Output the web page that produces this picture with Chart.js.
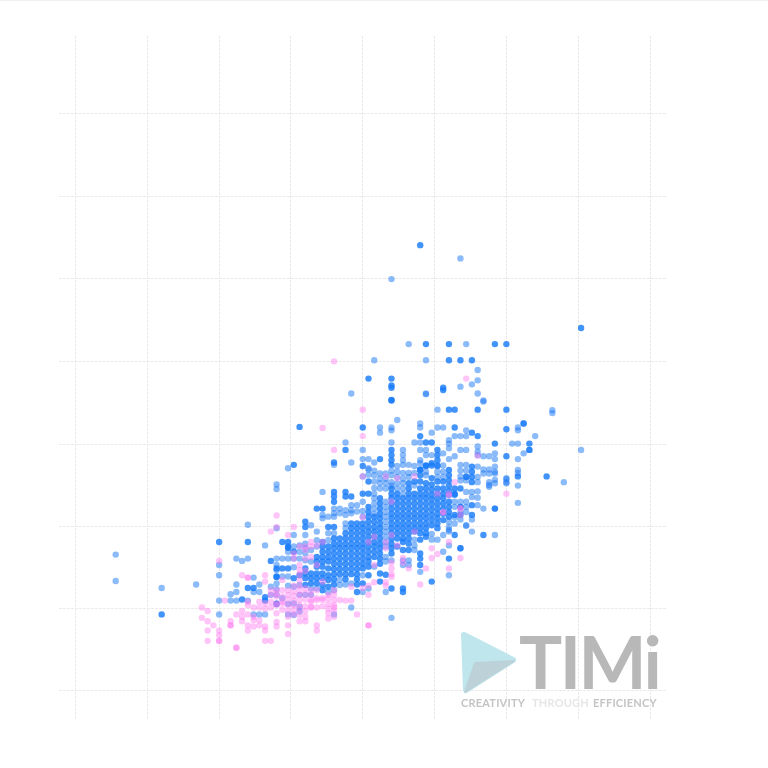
<!DOCTYPE html>
<html>
<head>
<meta charset="utf-8">
<style>html,body{margin:0;padding:0;background:#fff}canvas{display:block}</style>
<script src="https://cdn.jsdelivr.net/npm/chart.js@4"></script>
</head>
<body>
<canvas id="c" width="768" height="768"></canvas>
<script>
const xTicks = [-25,-12.5,0,12.5,25,37.5,50,62.5,75];
const yTicks = [-13.15,1.09,15.36,29.6,44.0,58.4,72.6,87.1];

const pinkColumns = [
[-3,[1.2,-.6]],[-2,[.6,-1.2,-2.8,-4.6]],[-1,[-1.9]],[0,[9.3,-2.8,-3.6,-4.6,-4.6]],[1,[2.4]],[2,[-1.2,-1.9,-1.9]],[3,[0,-5.8,-5.8]],
[4,[6.8,.6,-.4,-1.2]],[5,[6.4,6.4,2.2,1.6,0,-1.9,-2.8]],[6,[1.2,-.4,-1,-2.1]],[7,[2.2,1.2,-1,-1.9]],[8,[6.8,5.7,1.9,1,-2.1,-2.8,-4.6]],
[9,[14.4,4.2,3.4,2.2,1.2,-4.6]],[10,[17.2,15.2,4.2,3.6,3.1,1.9,1.6,.2,-1.3,-2.1]],[11,[6,2.2,4.2,3.1,1.9,.8]],
[12,[13.8,4.2,3.4,2.6,1.6,.6,-.4,-1.9,-3.4]],
[13,[15.2,10.6,9.7,5,4,3.2,2.4,1.6,.8,0]],[14,[11.8,8.6,7.7,7,6,5,4.2,3.4,2.5,1.6,.8,-.1,-1.2]],[15,[11.8,11.2,9.7,7.6,4.5,3.6,2.6,1.4,.6,-.4,-1.2]],
[16,[12.6,11.8,10,4.2,3.4,2.5,2.2,1.3,1.2]],[17,[12,8.6,4.2,2.8,2.5,1.2,-1.9,-2.8]],[18,[12.6,5.7,32.4,2.8,2.5,1.4]],
[19,[3.4,2.8,1.8,1,.2,-.7]],[20,[44,28.6,4.2,3.4,2.5,1.6,1.2,.6,-.4]],[21,[2.5]],[22,[2.4]],[23,[4.8,2.4]],
[24,[0]],[25,[35.6,31,24,16.9,4.6]],[26,[5,-1.9,3.4,12.6,-1.9]],[27,[5.6,8.6,13.5]],[29,[24,12.6,11.5,5.6,5]],[30,[19.6,13.8,9,8,7,6.5]],
[31,[23.7,12]],[32,[9.8,9]],[33,[8]],[34,[24,14.4]],[35,[5.2]],[36,[8]],[37,[11.5,9.8]],[38,[21,10.5]],[39,[17.8,17.7]],[40,[20.7,21,12.6,8]],
[41,[23]],[42,[18.5,17.3,18.3,9.8]],[43,[41]],[45,[27.6]],[50,[21]]
];

const softBlueColumns = [
[-18,[10.4,5.8]],[-10,[4.6]],[-4,[5.2]],[0,[8.6,6.8,2.4,0]],[2,[3.5,2.4]],[3,[9.7,5.2,3.9,2.4]],[4,[9.3]],[5,[15.6,9.7,2.4]],[6,[6.4,3.9,0]],
[7,[5.2,3.9,0]],[8,[12,0]],[9,[4.8,3.4]],[10,[22.6,21.8,15,9.7,8.6,7.7,5.4,4.4,3.4,1.9]],[11,[9.7,6.6,2.8]],[12,[25.4,10.9,9.7,6.6,5,1.8,0]],
[13,[13.8,11.8,9.7,8.2,4.8,1.9,-.1]],[14,[12,10.9,9.7,5.1,3.4,1.3,.5]],[15,[13.8,12.3,11.5,10.6,9.4,3.4]],[16,[15.5,11.2,9.2,4.5,3.4]],
[17,[14.4,12.9,11.8,4.5]],[18,[21.3,17.3,16.7]],[19,[17,14.1,12.9,3.9]],[20,[26,18.4,17.6,17,14.1,4.2,0]],[21,[18.4,17.6,6,5.1]],
[22,[29.9,18.1,17.3,15.8,15,5.2]],[23,[38.4,26.4,19,18.1,17.6,5.4,1.2]],[24,[19,17.9]],[25,[28.6,27,24,19.6,18,17,6.8,3.9]],
[26,[27,25.4,25.2,24.3,4.5]],[27,[44.2,26.4,25,24.2,23.1,22,21,20.2,19.3,18.4,17.5,8.3]],[28,[32.5,31.6,24.5,23.6,22.8,21.9]],
[29,[24.5,23.6,22.8,21.9,19.6,18.7,17.8,17,16.1,15.2,14.4,13.5,12.6,11.8,10,9.2,3.9]],[30,[58.3,32.5,32,29.9,25,24.2,23,22.4,9.4,-.6]],
[31,[33.8,25.8,24.8,23.9,22.8,21.9]],[32,[28.6,27.7,26.8,26,24.6,23.6,22.8,21.9,21,9.4,8.6]],[33,[47,26,24.6,23.9,9.4,8.6]],[34,[29.9,25.8,24.6,22.4,13,12,11.2]],
[35,[33.2,32.5,29.9,28.6,26.8,26.3,7.4]],[36,[44.2,38.4,38.3,28.6,27.7,24.8,24.2]],[37,[31.6,27.7,14,13]],
[38,[35.6,32.5,25.9,24.8,23.9,13]],[39,[32.5,28,25.9,24.8,23.9,13.8,10.9]],
[40,[30.3,29.7,28.9,27,16.1,15.2,14.7,14.4,12,6.8]],
[41,[31,27.5,19.6,18.7,16.9,15.8]],[42,[61.9,39.6,31,28.6,26,25,24,23.3,19.6,18.7,17.8,16.5,11.5]],[43,[47,32,31,28.6,26,25,24,23.3,21.3,19.6,18.7,17.8,15.5,15.4]],
[44,[40,21.3,14.4,20.4,16.5]],[45,[42.5,40.7,38.4,29.2,28.3,27.7,25.7,23.9,23,21.4,20.3,19]],[46,[37.2,37,27.5,25.2,24.5,18.4]],
[47,[27.5,25.2,24.5,23,22.2,22.5]],[48,[28,27,25.7,24.8,24.5,23.4,22.8,18.4,13.8]],[50,[23.7,22.8,23.5,23]],[51,[29.7]],
[52,[32.5,32,29.7,27,25.1,24.6,22.4,19.4]],[53,[33.2,28]],[54,[28.6]],[55,[31]],[58,[35.5,35]],[60,[23]],[63,[28.6]]
];

const strongBlueColumns = [
[-10,[0]],[0,[12.6]],[4,[2.6]],[5,[12.6,4.6]],[6,[4.6]],[8,[3,2.4]],[9,[9.3]],[10,[8,6.6,6.5,1.8]],[11,[12.6,8]],[12,[12.6,11.8,11.6,8]],
[13,[26,10.9,6.3]],[14,[32.6,6.8]],[15,[16.1,15.2,8,7.1,6.3,5.1]],[16,[7.1,6.3,5.4]],[17,[18.4,10,9.2,8.3,7.1,6.3,5.4]],
[18,[18.4,12.6,11.8,10.9,10,9.2,8.3,7.1,6.3,5.1,4.2]],[19,[15.2,11.8,10.9,10,9.2,8,6.8,6,4.8]],
[20,[26.4,21.3,20.5,19.6,15.2,13.2,12.3,11.5,10.6,9.7,8.8,7.9,7,6.1,5.2]],[21,[13.2,12.3,11.5,10.6,9.7,8.8,7.9,7]],
[22,[28.6,21.3,20.5,14.1,13.2,12.3,11.5,10.6,9.7,8.8,7.9,7,6.1]],[23,[20.5,15.8,15,14.1,13.2,12.3,11.5,10.6,9.7,8.8,7.9,7]],
[24,[15.8,15,14.1,13.2,12.3,11.5,10.6,9.7,8.8,7.9,7,6.1,5.2,3.9]],[25,[32.5,25.8,21,15.8,15,14.1,13.2,12.3,11.5,10.6,9.7,8.8,8,5.4]],
[26,[41,23.1,21,18.7,17.8,17,16.1,15.2,14.4,13.5,12.6,11.8,10.9,10,9.2,8.3,6.8]],[27,[17,16.1,15.2,14.4,13.5,12.6,11.8,10.9,10]],
[28,[27,20.2,19.3,18.4,17.5,16.7,15.8,15,14.1,13.2,12.3,11.5,10.6,9.7,8.8,7.1,5.7]],[29,[6.9]],
[30,[41,39.8,39.4,37.3,37.2,28.6,27.7,26.8,26,21.9,21,20.2,19.3,18.4,17.5,16.7,15.8,15,14.1,13.2,12.3,11.5,10.6,4.5]],
[31,[21,20.2,19.3,18.4,17.5,16.7,15.8,15,14.1,13.2,11.8]],[32,[20.2,19.3,18.4,17.5,16.7,15.8,15,14.1,13.2,12.6,11.2,4.5,3.9]],
[33,[22.8,21.9,21,20.2,19.3,18.4,17.5,16.7,15.8,15,14.1,13.2,12.3,11.2]],[34,[23.1,21,20.2,19.3,18.4,17.5,16.7,15.8,15,14.4]],
[35,[64.2,31,25.2,25.1,24.2,23.1,21.9,21,20.2,19.3,18.4,17.5,16.7,15.8,15,14.1,13,10.6,9.7,8.6]],
[36,[47,29.9,25.9,25.8,22.8,21.9,21,20.2,19.3,18.4,17.5,16.7,15.8,15,14.1,13.5]],[37,[29.9,26.3,25.9,23.7,22.6,21.7,20.8,20,19.1,18.2,17.3,16.4,15.5,5.7]],
[38,[28.6,27.7,26.8,25.8,23.1,21.9,21,20.2,19.3,18.4,17.5,16.7,15.8,15]],[39,[39.4,39,23.1,21.9,21,20.2,19.3,18.4,17.5,16.4]],
[40,[47,44.2,35.6,25.1,24.2,23.3,22.4,21.5,20.8,19.6,18.7,17.8,17,9.7]],[41,[35.6,32.5,21.9,21,20.8,17.3,13.8]],[42,[44.2,21.9,18.7,17.3,11.5]],
[43,[23.9]],[44,[44.2,31.6,25.7,24.8,23.9,23,19,17.3]],[45,[35.6,31]],[46,[13.8]],[48,[47,29.7,18.4]],
[50,[47,35.6,32.2,27.5]],[52,[24]],[53,[33.2]],[54,[29.7,28.6]],[57,[24]],[63,[49.8]]
];

const flatten = cols => cols.flatMap(([col, rows]) => rows.map(r => ({x: col, y: r})));

const logoPlugin = {
  id: 'logo',
  afterDraw(chart) {
    const c = chart.ctx;
    c.save();
    c.strokeStyle = '#f0f0f0';
    c.lineWidth = 1;
    c.beginPath(); c.moveTo(0,0.5); c.lineTo(768,0.5); c.stroke();
    c.lineJoin = 'round';
    c.lineWidth = 6;
    c.fillStyle = c.strokeStyle = '#bfe6ed';
    c.beginPath(); c.moveTo(464,635); c.lineTo(513,660); c.lineTo(466,690); c.closePath(); c.fill(); c.stroke();
    c.lineWidth = 2;
    c.fillStyle = c.strokeStyle = '#bcd2d8';
    c.beginPath(); c.moveTo(475,663); c.lineTo(514,661); c.lineTo(465,692); c.closePath(); c.fill(); c.stroke();
    c.fillStyle = '#b8b8b8';
    c.font = 'bold 72px Lato';
    c.textBaseline = 'alphabetic';
    c.letterSpacing = '-2.5px';
    c.fillText('TIMi', 519, 689);
    c.letterSpacing = '0.2px';
    c.font = 'bold 11px Lato';
    c.fillStyle = '#c4c4c4'; c.fillText('CREATIVITY', 461, 707);
    c.fillStyle = '#e6e6e6'; c.fillText('THROUGH', 532, 707);
    c.fillStyle = '#c4c4c4'; c.fillText('EFFICIENCY', 593, 707);
    c.restore();
  }
};

new Chart(document.getElementById('c'), {
  type: 'scatter',
  plugins: [logoPlugin],
  data: {
    datasets: [
      {label:'pink', data: flatten(pinkColumns), backgroundColor:'rgba(255,125,240,0.45)', borderWidth:0, pointRadius:3.2},
      {label:'blue', data: flatten(softBlueColumns), backgroundColor:'rgba(25,120,245,0.5)', borderWidth:0, pointRadius:3.2},
      {label:'blue dense', data: flatten(strongBlueColumns), backgroundColor:'rgba(25,125,250,0.82)', borderWidth:0, pointRadius:3.2}
    ]
  },
  options: {
    responsive: false,
    animation: false,
    layout: {padding: {left:59, right:102, top:36, bottom:48}},
    plugins: {legend:{display:false}, tooltip:{enabled:false}},
    scales: {
      x: {
        type:'linear', min:-27.87, max:77.78,
        afterBuildTicks: s => { s.ticks = xTicks.map(v => ({value:v})); },
        ticks:{display:false},
        grid:{color:'#eaeaea', lineWidth:1, drawTicks:false},
        border:{display:false, dash:[3,1]}
      },
      y: {
        type:'linear', min:-18.36, max:100.57,
        afterBuildTicks: s => { s.ticks = yTicks.map(v => ({value:v})); },
        ticks:{display:false},
        grid:{color:'#eaeaea', lineWidth:1, drawTicks:false},
        border:{display:false, dash:[3,1]}
      }
    }
  }
});
</script>
</body>
</html>
